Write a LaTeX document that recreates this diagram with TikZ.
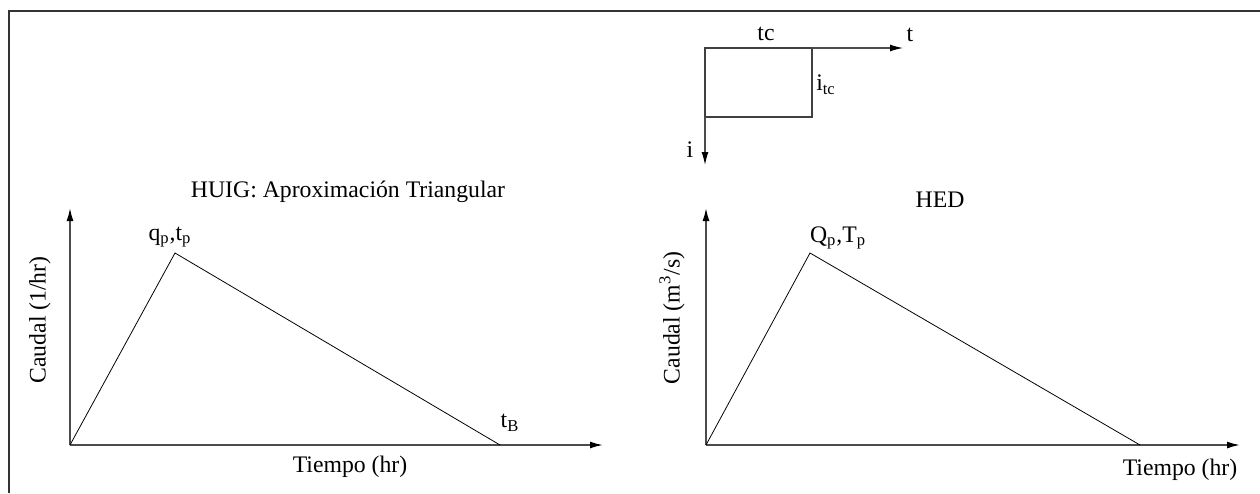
\documentclass[tikz,border=0pt]{standalone}
\usepackage{fontspec}
\setmainfont{Liberation Serif}
\usetikzlibrary{arrows.meta}

\begin{document}
\begin{tikzpicture}[
    axis/.style={draw=black!70,line width=0.9pt,-{Latex[length=2.6mm,width=1.4mm,black]}},
    curve/.style={draw=black,line width=0.45pt},
    lbl/.style={inner sep=1pt,font=\fontsize{13.5}{16}\selectfont}]

\useasboundingbox (0,0) rectangle (25.2,9.86);

% frame
\draw[black!80,line width=1pt] (0.18,0) -- (0.18,9.64) -- (25.2,9.64);

% HUIG
\coordinate (o1) at (1.4,0.96);
\coordinate (y1) at (1.4,5.7);
\coordinate (x1) at (12.06,0.96);
\coordinate (p1) at (3.5,4.8);
\coordinate (b1) at (10.0,0.96);

\draw[axis] (o1) -- (y1);
\draw[axis] (o1) -- (x1);
\draw[curve] (o1) -- (p1) -- (b1);

\node[lbl] (peak1) at (3.4,5.12) {q\textsubscript{p},t\textsubscript{p}};
\node[lbl] (base1) at (10.2,1.4) {t\textsubscript{B}};
\node[lbl] (title1) at (6.96,6.02) {HUIG: Aproximación Triangular};
\node[lbl] (time1) at (7.0,0.52) {Tiempo (hr)};
\node[lbl,rotate=90] (flow1) at (0.8,3.46) {Caudal (1/hr)};

% HED
\coordinate (o2) at (14.12,0.96);
\coordinate (y2) at (14.12,5.7);
\coordinate (x2) at (24.8,0.96);
\coordinate (p2) at (16.2,4.8);
\coordinate (b2) at (22.8,0.96);

\draw[axis] (o2) -- (y2);
\draw[axis] (o2) -- (x2);
\draw[curve] (o2) -- (p2) -- (b2);

\node[lbl] (peak2) at (16.76,5.1) {Q\textsubscript{p},T\textsubscript{p}};
\node[lbl] (title2) at (18.8,5.86) {HED};
\node[lbl] (time2) at (23.6,0.46) {Tiempo (hr)};
\node[lbl,rotate=90] (flow2) at (13.44,3.5) {Caudal (m\textsuperscript{3}/s)};

% hietograma
\coordinate (h0) at (14.1,8.9);
\coordinate (h1) at (16.24,8.9);
\coordinate (h2) at (16.24,7.52);
\coordinate (h3) at (14.1,7.52);
\coordinate (ht) at (18.06,8.9);
\coordinate (hi) at (14.1,6.56);

\draw[black!75,line width=0.7pt] (h0) -- (h1) -- (h2) -- (h3) -- cycle;
\draw[axis,line width=0.7pt] (h1) -- (ht);
\draw[axis,line width=0.7pt] (h3) -- (hi);

\node[lbl] (tc) at (15.32,9.18) {tc};
\node[lbl] (tlab) at (18.2,9.16) {t};
\node[lbl] (itc) at (16.52,8.16) {i\textsubscript{tc}};
\node[lbl] (ilab) at (13.8,6.86) {i};
\end{tikzpicture}
\end{document}
